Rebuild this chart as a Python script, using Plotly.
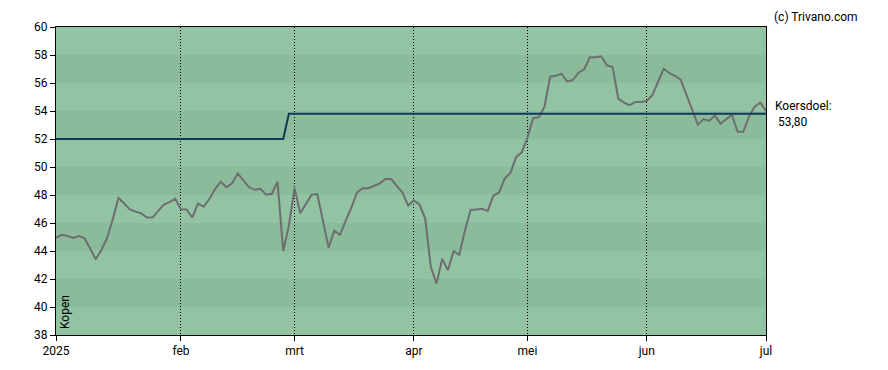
import pandas as pd
import plotly.graph_objects as go

# Trading calendar (Euronext): business days minus exchange holidays
holidays = ["2025-01-01", "2025-04-18", "2025-04-21", "2025-05-01"]
start_date = "2025-01-02"
end_date = "2025-07-01"

# Closing prices, one per trading day
price = [
    44.93, 45.16, 45.07, 44.93, 45.07, 44.93, 44.18, 43.41, 44.07, 44.93,
    46.27, 47.79, 47.39, 46.97, 46.81, 46.69, 46.39, 46.39, 46.86, 47.32,
    47.49, 47.74, 46.97, 46.97, 46.39, 47.39, 47.16, 47.72, 48.42, 48.95,
    48.55, 48.83, 49.53, 49.07, 48.55, 48.37, 48.44, 48.02, 48.09, 48.95,
    44.00, 45.81, 48.49, 46.69, 47.32, 48.02, 48.07, 46.16, 44.23, 45.46,
    45.16, 46.16, 47.09, 48.18, 48.49, 48.49, 48.65, 48.83, 49.14, 49.14,
    48.65, 48.18, 47.25, 47.60, 47.32, 46.32, 42.83, 41.67, 43.44, 42.62,
    44.00, 43.72, 45.46, 46.93, 46.97, 47.02, 46.86, 47.95, 48.18, 49.18,
    49.58, 50.70, 51.05, 52.10, 53.49, 53.56, 54.30, 56.46, 56.51, 56.67,
    56.11, 56.21, 56.74, 56.98, 57.84, 57.84, 57.91, 57.26, 57.14, 54.88,
    54.60, 54.42, 54.65, 54.65, 54.71, 55.14, 56.09, 57.02, 56.70, 56.51,
    56.23, 55.16, 54.07, 53.02, 53.42, 53.30, 53.67, 53.09, 53.42, 53.72,
    52.51, 52.51, 53.60, 54.30, 54.60, 54.00,
]

# Analyst price target (koersdoel) changes
target_dates = ["2025-01-02", "2025-02-27", "2025-02-28", "2025-07-01"]
target_values = [52.0, 52.0, 53.80, 53.80]

month_labels = ["2025", "feb", "mrt", "apr", "mei", "jun", "jul"]
y_ticks = list(range(38, 61, 2))
advice = "Kopen"

# ---- build trading dates
bd = pd.bdate_range(start_date, end_date)
bd = bd[~bd.isin(pd.to_datetime(holidays))]
dates = [d.strftime("%Y-%m-%d") for d in bd]

# first trading day of each month as tick positions
month_first = []
seen = set()
for d in bd:
    key = (d.year, d.month)
    if key not in seen:
        seen.add(key)
        month_first.append(d.strftime("%Y-%m-%d"))

LIGHT = "#92c4a3"
DARK = "#8abb9b"
FONT = "Roboto"

fig = go.Figure()
fig.add_trace(go.Scatter(
    x=dates, y=price, mode="lines",
    line=dict(color="#6e6e6e", width=2), hoverinfo="skip", showlegend=False,
))
fig.add_trace(go.Scatter(
    x=target_dates, y=target_values, mode="lines",
    line=dict(color="#0f3a5c", width=2), hoverinfo="skip", showlegend=False,
))

# horizontal bands
shapes = []
for i, lo in enumerate(range(38, 60, 2)):
    if i % 2 == 1:
        shapes.append(dict(type="rect", xref="paper", yref="y", x0=0, x1=1,
                           y0=lo, y1=lo + 2, fillcolor=DARK, line_width=0,
                           layer="below"))

annotations = [
    dict(text=advice, xref="paper", yref="paper", x=0, y=0, xanchor="left",
         yanchor="bottom", xshift=0, yshift=4, textangle=-90, showarrow=False,
         font=dict(family=FONT, size=12, color="#000")),
    dict(text="Koersdoel:<br> " + f"{target_values[-1]:.2f}".replace(".", ","),
         xref="paper", yref="y", x=1, y=target_values[-1], xanchor="left",
         yanchor="middle", xshift=7, align="left", showarrow=False,
         font=dict(family=FONT, size=12, color="#000")),
    dict(text="(c) Trivano.com", xref="paper", yref="paper", x=1, y=1,
         xanchor="left", yanchor="bottom", xshift=6, yshift=1, showarrow=False,
         font=dict(family=FONT, size=12, color="#000")),
]

tick_vals = month_first if month_first[-1] == dates[-1] else month_first + [dates[-1]]

fig.update_layout(
    width=880, height=362,
    margin=dict(l=48, r=122, t=12, b=34),
    paper_bgcolor="white", plot_bgcolor=LIGHT,
    font=dict(family=FONT, size=12, color="#000"),
    shapes=shapes, annotations=annotations,
    xaxis=dict(
        type="category", range=[0, len(dates) - 1],
        tickmode="array", tickvals=tick_vals, ticktext=month_labels,
        showgrid=True, gridcolor="#000", griddash="1px,2px", gridwidth=1,
        showline=True, linecolor="#000", linewidth=1, mirror=True,
        ticks="outside", ticklen=5, tickcolor="#000",
        zeroline=False, fixedrange=True,
    ),
    yaxis=dict(
        range=[38, 60], tickvals=y_ticks, showgrid=False,
        showline=True, linecolor="#000", linewidth=1, mirror=True,
        ticks="outside", ticklen=5, tickcolor="#000",
        zeroline=False, fixedrange=True,
    ),
)

fig.write_html("out.html", config={"displayModeBar": False})
